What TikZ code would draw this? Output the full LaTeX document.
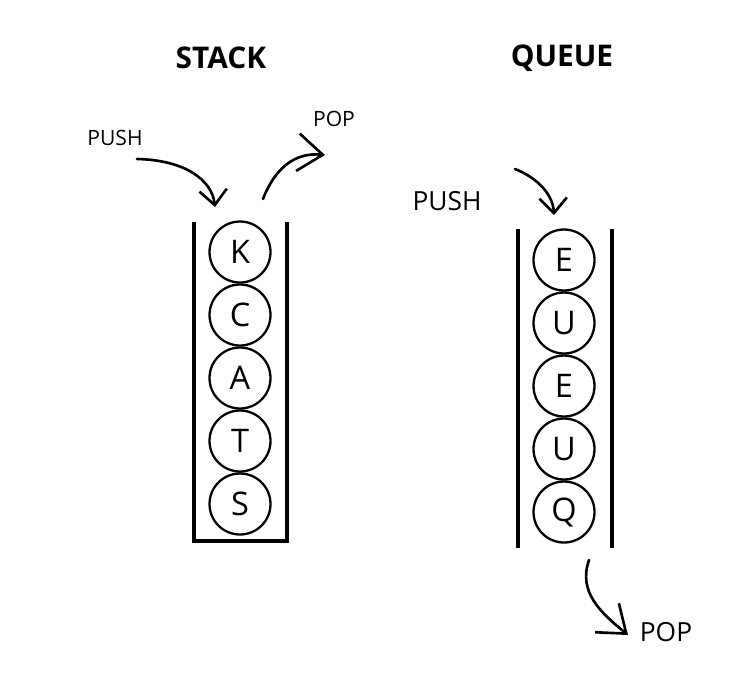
\documentclass[tikz,border=0pt]{standalone}
\usepackage{fontspec}
\setmainfont{Open Sans}
\usetikzlibrary{arrows.meta}
\tikzset{
  ball/.style={draw,circle,line width=1.3pt,minimum size=1.22cm,inner sep=0pt,font=\fontsize{18.5}{21}\selectfont},
  wall/.style={line width=1.8pt},
  label/.style={font=\fontsize{12}{14}\selectfont},
  biglabel/.style={font=\fontsize{15}{18}\selectfont},
  title/.style={font=\fontsize{17}{20}\selectfont\bfseries},
  hand/.style={line width=1.5pt,line cap=round,-{Straight Barb[length=3mm,width=5.5mm,line width=1.5pt]}},
  bighand/.style={line width=1.5pt,line cap=round,-{Straight Barb[length=5mm,width=7.5mm,line width=1.5pt]}}
}
\begin{document}
\begin{tikzpicture}[x=0.02cm,y=-0.02cm]
        \useasboundingbox (0,0) rectangle (736,674);
        % titles
        \node[title] (stack) at (221,58) {STACK};
        \node[title] (queue) at (562,58) {QUEUE};
        % stack
        \draw[wall](194,222)--(194,541)--(287,541)--(287,222);
        \foreach \c [count=\i] in {K,C,A,T,S}
            \node[ball] (s\i) at (240,{252+63*(\i-1)}) {\c};
        \node[label] (spush) at (115,138) {PUSH};
        \node[label] (spop) at (334,119) {POP};
        \coordinate (spushA) at (137,159);
        \coordinate (spushB) at (215,207);
        \coordinate (spopA) at (263,199);
        \coordinate (spopB) at (325,155);
        \draw[hand](spushA)..controls(185,160)and(212,180)..(spushB);
        \draw[bighand](spopA)..controls(275,168)and(295,152)..(spopB);
        % queue
        \draw[wall](518,229)--(518,548);
        \draw[wall](612,229)--(612,548);
        \foreach \c [count=\i] in {E,U,E,U,Q}
            \node[ball] (q\i) at (564,{260+63*(\i-1)}) {\c};
        \node[biglabel] (qpush) at (447,201) {PUSH};
        \node[biglabel] (qpop) at (666,632) {POP};
        \coordinate (qpushA) at (515,169);
        \coordinate (qpushB) at (554,215);
        \coordinate (qpopA) at (589,560);
        \coordinate (qpopB) at (628,635);
        \draw[hand](qpushA)..controls(538,178)and(553,195)..(qpushB);
        \draw[bighand](qpopA)..controls(578,592)and(600,612)..(qpopB);
    \end{tikzpicture}
\end{document}
